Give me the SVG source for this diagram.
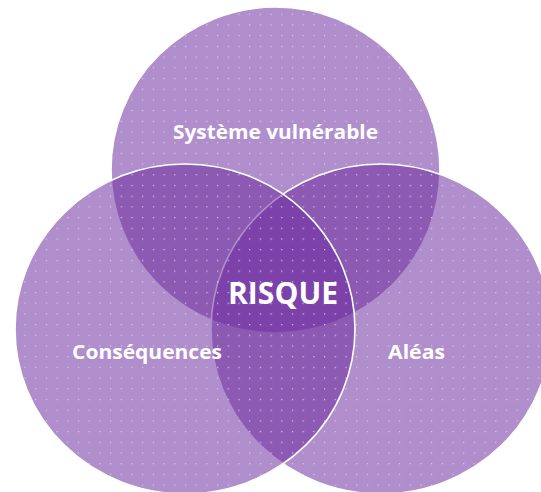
<svg xmlns="http://www.w3.org/2000/svg" width="541" height="492" viewBox="0 0 541 492">
<style>
.c{fill:#7030a0;fill-opacity:0.55;stroke:#ffffff;stroke-width:1.6}
.d{fill:url(#dots);stroke:none}
.t{fill:#ffffff;font-family:"Open Sans","Liberation Sans",sans-serif;font-weight:bold;text-anchor:middle}
</style>
<defs>
<pattern id="dots" x="3" y="3" width="10.7" height="10.7" patternUnits="userSpaceOnUse">
<rect x="0" y="0" width="1.2" height="1.2" fill="#ffffff" fill-opacity="0.55"/>
</pattern>
</defs>
<rect width="541" height="492" fill="#ffffff"/>
<g id="systeme">
<ellipse class="c" cx="275.5" cy="170" rx="164.5" ry="163"/>
<ellipse class="d" cx="275.5" cy="170" rx="164.5" ry="163"/>
</g>
<g id="aleas">
<ellipse class="c" cx="381" cy="329" rx="170" ry="165"/>
<ellipse class="d" cx="381" cy="329" rx="170" ry="165"/>
</g>
<g id="consequences">
<ellipse class="c" cx="185" cy="329" rx="170" ry="165"/>
<ellipse class="d" cx="185" cy="329" rx="170" ry="165"/>
</g>
<g id="labels">
<text class="t" x="275.5" y="138.5" font-size="19" textLength="205" lengthAdjust="spacingAndGlyphs">Système vulnérable</text>
<text class="t" x="147" y="358.5" font-size="20" textLength="150" lengthAdjust="spacingAndGlyphs">Conséquences</text>
<text class="t" x="416.5" y="358.5" font-size="20" textLength="57" lengthAdjust="spacingAndGlyphs">Aléas</text>
</g>
<g id="risque">
<text class="t" x="283" y="303.5" font-size="30" textLength="110" lengthAdjust="spacingAndGlyphs">RISQUE</text>
</g>
<g id="connectors"></g>
</svg>
